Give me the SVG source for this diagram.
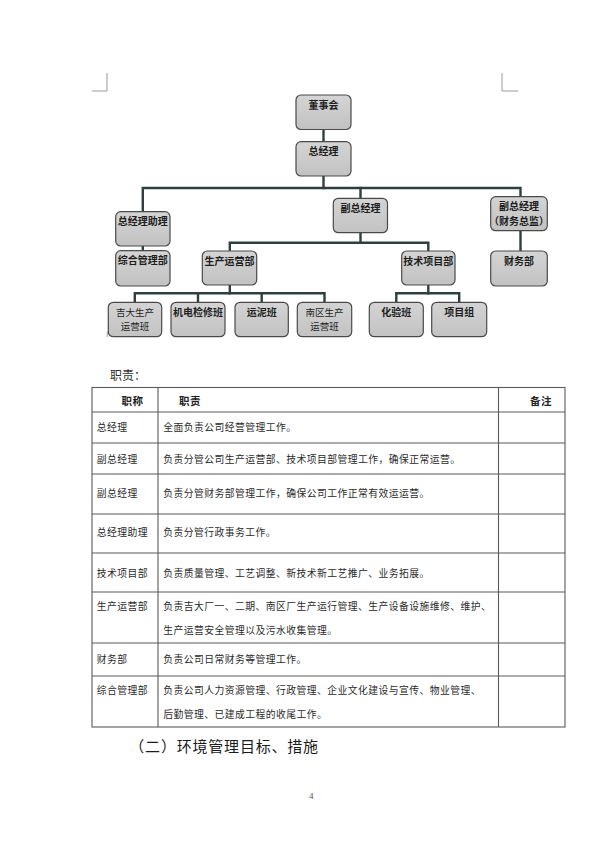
<svg xmlns="http://www.w3.org/2000/svg" width="600" height="849" viewBox="0 0 600 849">
<defs>
<linearGradient id="g" x1="0" y1="0" x2="0" y2="1">
<stop offset="0" stop-color="#d4d4d4"/>
<stop offset="1" stop-color="#c2c2c2"/>
</linearGradient>
</defs>
<style>
.box{fill:url(#g);stroke:#4a4a4a;stroke-width:1.2}
.bt{font-family:"Noto Sans CJK SC","Noto Sans CJK TC",sans-serif;font-size:10px;font-weight:700;fill:#1e1e1e;text-anchor:middle}
.bn{font-weight:400;font-size:9.5px}
.con{stroke:#2f3e3e;stroke-width:2.4;fill:none;stroke-linecap:square}
.mark{stroke:#9a9a9a;stroke-width:1;fill:none}
.tl{stroke:#5a5a5a;stroke-width:1.1;fill:none}
.tt{font-family:"Noto Sans CJK SC","Noto Sans CJK TC",serif;font-size:9.8px;letter-spacing:0.45px;fill:#2a2a2a}
.th{font-family:"Noto Sans CJK SC","Noto Sans CJK TC",serif;font-size:10.5px;font-weight:700;letter-spacing:0.5px;fill:#222}
</style>
<rect width="600" height="849" fill="#ffffff"/>
<g id="corner-marks">
<path class="mark" d="M107,73 V91 H92"/>
<path class="mark" d="M502,73 V91 H518"/>
<path class="mark" d="M107.3,331.5 V337"/>
</g>
<g id="connectors">
<path class="con" d="M323.5,129.5 V141.7"/>
<path class="con" d="M323.5,176 V188"/>
<path class="con" d="M142.8,211.7 V188 H520.5 V196.7"/>
<path class="con" d="M360.5,188 V198.3"/>
<path class="con" d="M142.8,246 V250.7"/>
<path class="con" d="M520.5,230.7 V251"/>
<path class="con" d="M360.5,232.7 V242.7"/>
<path class="con" d="M229.8,251 V242.7 H428.3 V251"/>
<path class="con" d="M229.8,285 V293.3"/>
<path class="con" d="M134.8,302.3 V293.3 H324.5 V302.3"/>
<path class="con" d="M198,293.3 V302.3"/>
<path class="con" d="M261.7,293.3 V302.3"/>
<path class="con" d="M428.3,285 V293.3"/>
<path class="con" d="M396.3,302.3 V293.3 H459.2 V302.3"/>
</g>
<g id="n-dongshihui"><rect class="box" x="296" y="95" width="55" height="34.5" rx="5"/><text class="bt" x="323.5" y="108.5">董事会</text></g>
<g id="n-zongjingli"><rect class="box" x="296" y="141.7" width="55" height="34.3" rx="5"/><text class="bt" x="323.5" y="154.5">总经理</text></g>
<g id="n-zjlzl"><rect class="box" x="115.7" y="211.7" width="54.3" height="34.3" rx="5"/><text class="bt" x="142.8" y="225.2">总经理助理</text></g>
<g id="n-zhglb"><rect class="box" x="115.7" y="250.7" width="54.3" height="35.3" rx="5"/><text class="bt" x="142.8" y="263.7">综合管理部</text></g>
<g id="n-fzjl"><rect class="box" x="333.3" y="198.3" width="54.2" height="34.4" rx="5"/><text class="bt" x="360.4" y="211.6">副总经理</text></g>
<g id="n-fzjl-cw"><rect class="box" x="490.7" y="196.7" width="56.6" height="34" rx="5"/><text class="bt" x="519" y="210">副总经理</text><text class="bt" x="519" y="225">（财务总监）</text></g>
<g id="n-cwb"><rect class="box" x="490.7" y="251" width="56.6" height="35" rx="5"/><text class="bt" x="519" y="264.5">财务部</text></g>
<g id="n-scyyb"><rect class="box" x="202.3" y="251" width="54.4" height="34" rx="5"/><text class="bt" x="229.5" y="264.5">生产运营部</text></g>
<g id="n-jsxmb"><rect class="box" x="401.7" y="251" width="53.3" height="34" rx="5"/><text class="bt" x="428.3" y="264.5">技术项目部</text></g>
<g id="n-jida"><rect class="box" x="108.3" y="302.3" width="53.4" height="34.4" rx="5"/><text class="bt bn" x="135" y="316.3">吉大生产</text><text class="bt bn" x="135" y="330.3">运营班</text></g>
<g id="n-jidian"><rect class="box" x="171" y="302.3" width="54" height="34.4" rx="5"/><text class="bt" x="198" y="315.8">机电检修班</text></g>
<g id="n-yunni"><rect class="box" x="235" y="302.3" width="53.3" height="34.4" rx="5"/><text class="bt" x="261.7" y="315.8">运泥班</text></g>
<g id="n-nanqu"><rect class="box" x="297.3" y="302.3" width="54.4" height="34.4" rx="5"/><text class="bt bn" x="324.5" y="316.3">南区生产</text><text class="bt bn" x="324.5" y="330.3">运营班</text></g>
<g id="n-huayan"><rect class="box" x="369.3" y="302.3" width="54" height="34.4" rx="5"/><text class="bt" x="396.3" y="315.8">化验班</text></g>
<g id="n-xiangmu"><rect class="box" x="431.7" y="302.3" width="55" height="34.4" rx="5"/><text class="bt" x="459.2" y="315.8">项目组</text></g>

<g id="table">
<text x="110" y="379.5" style="font-family:'Noto Sans CJK SC',serif;font-size:12px;fill:#333">职责：</text>
<rect class="tl" x="92" y="387.5" width="473" height="339.5"/>
<path class="tl" d="M158,387.5 V727 M498.5,387.5 V727"/>
<path class="tl" d="M92,412 H565 M92,443 H565 M92,474 H565 M92,514 H565 M92,553 H565 M92,592 H565 M92,643 H565 M92,676 H565"/>
<text class="th" x="121.5" y="404.5">职称</text>
<text class="th" x="179" y="404.5">职责</text>
<text class="th" x="530" y="404.5">备注</text>
<text class="tt" x="96.7" y="431">总经理</text>
<text class="tt" x="163.3" y="431">全面负责公司经营管理工作。</text>
<text class="tt" x="96.7" y="462.5">副总经理</text>
<text class="tt" x="163.3" y="462.5">负责分管公司生产运营部、技术项目部管理工作，确保正常运营。</text>
<text class="tt" x="96.7" y="497">副总经理</text>
<text class="tt" x="163.3" y="497">负责分管财务部管理工作，确保公司工作正常有效运运营。</text>
<text class="tt" x="96.7" y="536">总经理助理</text>
<text class="tt" x="163.3" y="536">负责分管行政事务工作。</text>
<text class="tt" x="96.7" y="576.5">技术项目部</text>
<text class="tt" x="163.3" y="576.5">负责质量管理、工艺调整、新技术新工艺推广、业务拓展。</text>
<text class="tt" x="96.7" y="610">生产运营部</text>
<text class="tt" x="163.3" y="610">负责吉大厂一、二期、南区厂生产运行管理、生产设备设施维修、维护、</text>
<text class="tt" x="163.3" y="634">生产运营安全管理以及污水收集管理。</text>
<text class="tt" x="96.7" y="663">财务部</text>
<text class="tt" x="163.3" y="663">负责公司日常财务等管理工作。</text>
<text class="tt" x="96.7" y="693.5">综合管理部</text>
<text class="tt" x="163.3" y="693.5">负责公司人力资源管理、行政管理、企业文化建设与宣传、物业管理、</text>
<text class="tt" x="163.3" y="717.5">后勤管理、已建成工程的收尾工作。</text>
</g>
<text x="129.3" y="751.5" style="font-family:'Noto Sans CJK SC',serif;font-size:15px;letter-spacing:0.8px;fill:#1a1a1a">（二）环境管理目标、措施</text>
<text x="309" y="799" style="font-family:'Liberation Serif',serif;font-size:9px;fill:#555">4</text>
</svg>
